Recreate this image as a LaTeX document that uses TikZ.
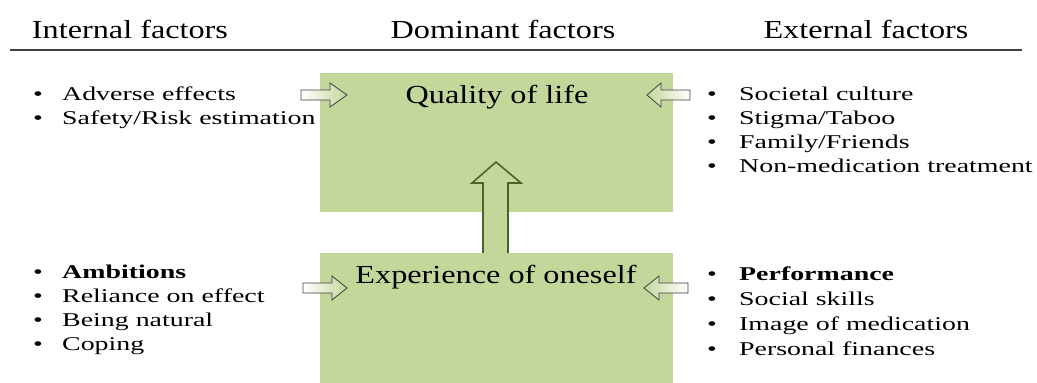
\documentclass[tikz,border=0pt]{standalone}
\usepackage{fontspec}
\setmainfont{Liberation Serif}
\newfontfamily\headfont[FakeStretch=1.24]{Liberation Serif}
\newfontfamily\listfont[FakeStretch=1.43]{Liberation Serif}
\definecolor{boxgreen}{RGB}{196,215,155}
\definecolor{shaftedge}{RGB}{79,98,40}
\definecolor{ruleline}{RGB}{64,64,64}
\begin{document}
\begin{tikzpicture}[x=1pt,y=-1pt,
  factorbox/.style={fill=boxgreen, draw=none, inner sep=0, anchor=north west,
    minimum width=353pt, outer sep=0},
  heading/.style={font=\headfont\fontsize{26}{30}\selectfont, anchor=base, inner sep=0},
  boxlabel/.style={font=\headfont\fontsize{26}{30}\selectfont, anchor=base, inner sep=0},
  item/.style={font=\listfont\fontsize{19.5}{23}\selectfont, anchor=base west, inner sep=0},
  inarrow/.style={draw=ruleline, line width=0.8pt, line join=miter},
  uparrow/.style={draw=shaftedge, line width=1.6pt, line join=miter}]
\useasboundingbox (0,0) rectangle (1037,383);

% column headings and rule
\node[heading] (hin)  at (130,38) {Internal factors};
\node[heading] (hdom) at (503,38) {Dominant factors};
\node[heading] (hext) at (866,38) {External factors};
\coordinate (ruleL) at (10,50);
\coordinate (ruleR) at (1022,50);
\draw[ruleline, line width=2.5pt] (ruleL) -- (ruleR);

% dominant factor boxes
\node[factorbox, minimum height=139pt] (qol) at (320,73) {};
\node[factorbox, minimum height=130pt] (exp) at (320,253) {};
\node[boxlabel] (qoltext) at (497,103) {Quality of life};
\node[boxlabel] (exptext) at (496,283) {Experience of oneself};

% arrow from experience of oneself up to quality of life
\fill[boxgreen] (483,253) -- (483,183) -- (472,183) -- (496,162) -- (521,183)
  -- (508,183) -- (508,253) -- cycle;
\draw[uparrow] (483,253) -- (483,183) -- (472,183) -- (496,162) -- (521,183)
  -- (508,183) -- (508,253);

% internal factors
\node[item] (in1) at (33,100) {\makebox[29pt][l]{\textbullet}Adverse effects};
\node[item] (in2) at (33,124) {\makebox[29pt][l]{\textbullet}Safety/Risk estimation};
\node[item] (in3) at (33,278) {\makebox[29pt][l]{\textbullet}\textbf{Ambitions}};
\node[item] (in4) at (33,302) {\makebox[29pt][l]{\textbullet}Reliance on effect};
\node[item] (in5) at (33,326) {\makebox[29pt][l]{\textbullet}Being natural};
\node[item] (in6) at (33,350) {\makebox[29pt][l]{\textbullet}Coping};

% external factors
\node[item] (ex1) at (707,100) {\makebox[32pt][l]{\textbullet}Societal culture};
\node[item] (ex2) at (707,124) {\makebox[32pt][l]{\textbullet}Stigma/Taboo};
\node[item] (ex3) at (707,148) {\makebox[32pt][l]{\textbullet}Family/Friends};
\node[item] (ex4) at (707,172) {\makebox[32pt][l]{\textbullet}Non-medication treatment};
\node[item] (ex5) at (707,280) {\makebox[32pt][l]{\textbullet}\textbf{Performance}};
\node[item] (ex6) at (707,305) {\makebox[32pt][l]{\textbullet}Social skills};
\node[item] (ex7) at (707,330) {\makebox[32pt][l]{\textbullet}Image of medication};
\node[item] (ex8) at (707,355) {\makebox[32pt][l]{\textbullet}Personal finances};

% block arrows pointing into the boxes
\draw[inarrow, left color=white, right color=boxgreen]
  (301,90) -- (330,90) -- (330,83) -- (347,95) -- (330,107) -- (330,100) -- (301,100) -- cycle;
\draw[inarrow, left color=boxgreen, right color=white]
  (690,90) -- (661,90) -- (661,83) -- (647,95) -- (661,107) -- (661,100) -- (690,100) -- cycle;
\draw[inarrow, left color=white, right color=boxgreen]
  (303,283) -- (332,283) -- (332,276) -- (347,288) -- (332,300) -- (332,293) -- (303,293) -- cycle;
\draw[inarrow, left color=boxgreen, right color=white]
  (688,283) -- (659,283) -- (659,276) -- (644,288) -- (659,300) -- (659,293) -- (688,293) -- cycle;
\end{tikzpicture}
\end{document}
